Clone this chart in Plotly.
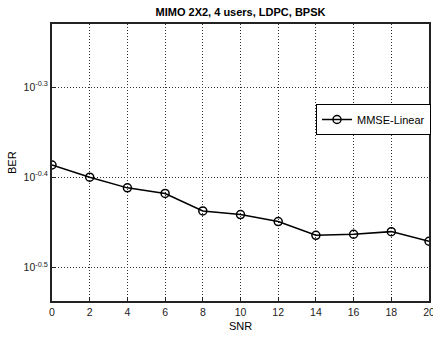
import plotly.graph_objects as go

snr = [0, 2, 4, 6, 8, 10, 12, 14, 16, 18, 20]
ber = [0.4107, 0.3981, 0.3874, 0.3819, 0.3652, 0.3618, 0.3554, 0.3432, 0.3441, 0.3464, 0.3380]
series_name = "MMSE-Linear"
title_text = "MIMO 2X2, 4 users, LDPC, BPSK"
x_title = "SNR"
y_title = "BER"
x_ticks = [0, 2, 4, 6, 8, 10, 12, 14, 16, 18, 20]
y_tick_exps = [-0.5, -0.4, -0.3]

FONT = "Liberation Sans, Arial, Helvetica, sans-serif"
W, H = 433, 338
L, R, T, B = 52, 4, 24, 37

fig = go.Figure()
fig.add_trace(go.Scatter(
    x=snr, y=ber, name=series_name, mode="lines+markers",
    line=dict(color="black", width=1.5),
    marker=dict(symbol="circle-open", size=8, color="black", line=dict(width=1.5)),
    showlegend=True,
))

fig.update_layout(
    width=W, height=H,
    margin=dict(l=L, r=R, t=T, b=B, autoexpand=False),
    paper_bgcolor="white", plot_bgcolor="white",
    font=dict(family=FONT, size=11, color="black"),
    title=dict(text="<b>" + title_text + "</b>", x=(L + W - R) / 2 / W, xanchor="center",
               y=1 - 12 / H, yanchor="middle", font=dict(size=11, family=FONT)),
    showlegend=True,
    legend=dict(x=(316 - L) / (W - L - R), y=(H - B - 104) / (H - T - B),
                xanchor="left", yanchor="top",
                bgcolor="white", bordercolor="black", borderwidth=1,
                font=dict(size=11, family=FONT), itemwidth=30,
                tracegroupgap=0),
)

grid = dict(showgrid=True, gridcolor="#333", griddash="1px,2px", gridwidth=1,
            showline=True, mirror=True, linecolor="#222", linewidth=2,
            ticks="inside", ticklen=4, tickcolor="#222", zeroline=False,
            automargin=False, tickfont=dict(size=10.5, color="#222"),
            ticklabeloverflow="allow")

fig.update_xaxes(range=[0, 20], tickvals=x_ticks, ticktext=[str(v) for v in x_ticks], **grid)
fig.update_yaxes(type="log", range=[-0.5374, -0.23],
                 tickvals=[10 ** e for e in y_tick_exps],
                 ticktext=["10<sup>%s</sup>" % e for e in y_tick_exps], **grid)

fig.add_annotation(text=x_title, xref="paper", yref="paper",
                   x=0.5, y=-(326 - (H - B)) / (H - T - B), xanchor="center", yanchor="middle",
                   showarrow=False, font=dict(size=11, family=FONT))
fig.add_annotation(text=y_title, xref="paper", yref="paper", textangle=-90,
                   x=-(L - 12) / (W - L - R), y=(H - B - 163) / (H - T - B),
                   xanchor="center", yanchor="middle",
                   showarrow=False, font=dict(size=11, family=FONT))

fig.write_html("out.html", config={"displayModeBar": False},
               post_script="document.body.style.margin='0px';document.body.style.overflow='hidden';")
